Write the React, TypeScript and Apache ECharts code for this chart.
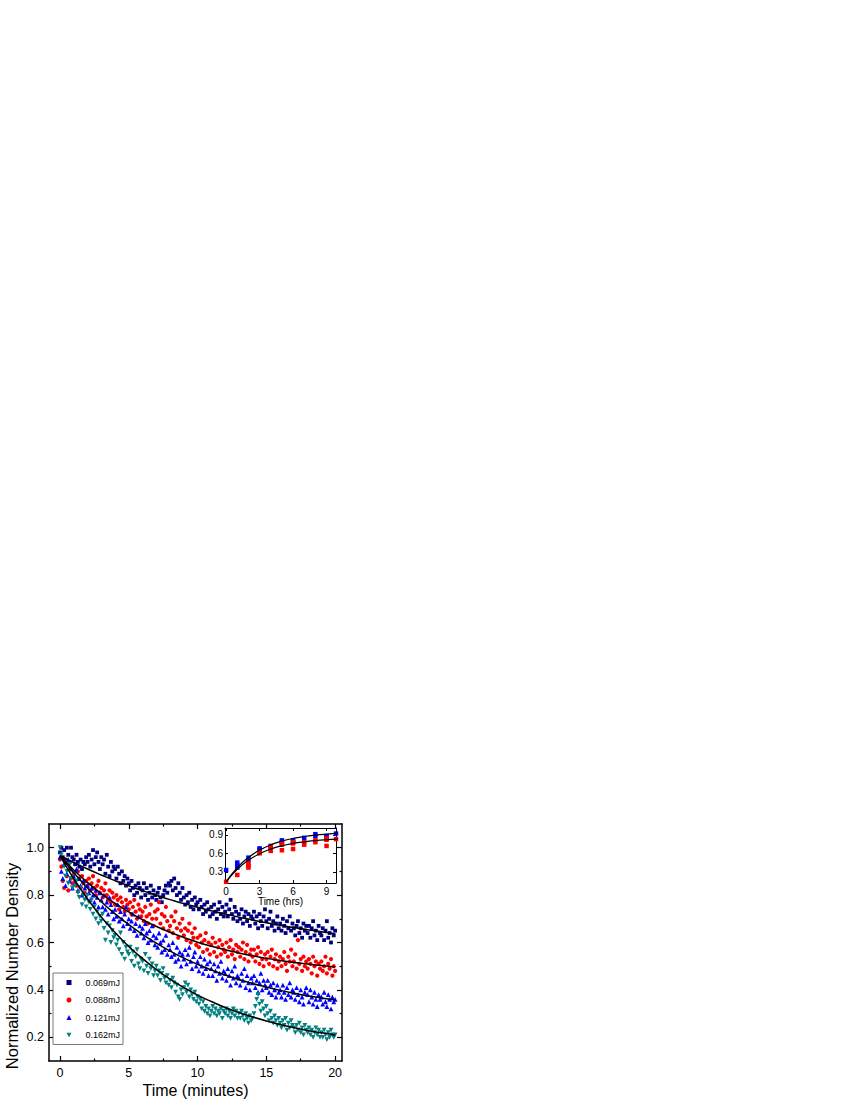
import React, { useEffect, useRef } from "react";
import * as echarts from "echarts";

// ---------- data ----------
const SAMPLE_STEP_MIN = 0.1; // sampling interval of the decay measurements (minutes)

const seriesNames = ["0.069mJ", "0.088mJ", "0.121mJ", "0.162mJ"];

const navyValues = [
  0.98, 1.0, 0.96, 0.99, 0.95, 1.0, 0.97, 0.94, 1.0, 0.96,
  0.95, 0.93, 0.97, 0.94, 0.92, 0.95, 0.91, 0.94, 0.93, 0.96,
  0.94, 0.97, 0.92, 0.95, 0.99, 0.93, 0.96, 0.98, 0.94, 0.91,
  0.96, 0.93, 0.95, 0.89, 0.97, 0.92, 0.88, 0.94, 0.9, 0.92,
  0.91, 0.87, 0.92, 0.89, 0.85, 0.9, 0.86, 0.88, 0.84, 0.87,
  0.85, 0.82, 0.86, 0.83, 0.8, 0.84, 0.81, 0.85, 0.83, 0.79,
  0.82, 0.85, 0.8, 0.83, 0.78, 0.81, 0.84, 0.79, 0.82, 0.8,
  0.78, 0.81, 0.83, 0.79, 0.77, 0.8, 0.82, 0.84, 0.81, 0.85,
  0.84, 0.86, 0.82, 0.87, 0.83, 0.8, 0.85, 0.81, 0.78, 0.83,
  0.79, 0.76, 0.8, 0.77, 0.81, 0.75, 0.78, 0.74, 0.79, 0.76,
  0.77, 0.74, 0.78, 0.75, 0.72, 0.76, 0.73, 0.77, 0.74, 0.71,
  0.75, 0.72, 0.76, 0.73, 0.7, 0.74, 0.77, 0.72, 0.75, 0.71,
  0.73, 0.76, 0.71, 0.74, 0.78, 0.72, 0.7, 0.75, 0.73, 0.69,
  0.72, 0.7, 0.74, 0.68, 0.71, 0.73, 0.69, 0.72, 0.67, 0.71,
  0.7, 0.73, 0.68, 0.71, 0.66, 0.72, 0.69, 0.67, 0.71, 0.74,
  0.69, 0.66, 0.7, 0.73, 0.67, 0.69, 0.65, 0.68, 0.71, 0.66,
  0.68, 0.65, 0.7, 0.67, 0.64, 0.69, 0.66, 0.71, 0.65, 0.68,
  0.66, 0.63, 0.67, 0.69, 0.64, 0.66, 0.62, 0.68, 0.65, 0.67,
  0.64, 0.67, 0.62, 0.66, 0.69, 0.63, 0.65, 0.61, 0.67, 0.64,
  0.63, 0.66, 0.61, 0.65, 0.69, 0.62, 0.64, 0.6, 0.66, 0.63,
  0.65,
];

const redValues = [
  0.95, 0.92, 0.86, 0.83, 0.94, 0.88, 0.82, 0.91, 0.87, 0.85,
  0.89, 0.86, 0.84, 0.9, 0.87, 0.83, 0.88, 0.85, 0.81, 0.86,
  0.84, 0.87, 0.82, 0.85, 0.88, 0.83, 0.8, 0.84, 0.86, 0.81,
  0.83, 0.79, 0.82, 0.85, 0.8, 0.78, 0.82, 0.77, 0.81, 0.79,
  0.76, 0.8, 0.78, 0.74, 0.79, 0.77, 0.75, 0.73, 0.78, 0.76,
  0.74, 0.77, 0.72, 0.75, 0.78, 0.73, 0.7, 0.76, 0.74, 0.71,
  0.73, 0.69, 0.75, 0.71, 0.68, 0.72, 0.76, 0.7, 0.67, 0.73,
  0.7, 0.74, 0.77, 0.68, 0.72, 0.66, 0.71, 0.75, 0.69, 0.65,
  0.67, 0.71, 0.64, 0.69, 0.73, 0.66, 0.62, 0.68, 0.65, 0.7,
  0.63, 0.66, 0.61, 0.65, 0.68, 0.6, 0.64, 0.62, 0.66, 0.59,
  0.62, 0.58, 0.63, 0.6, 0.56, 0.61, 0.64, 0.57, 0.6, 0.55,
  0.59, 0.62, 0.56, 0.6, 0.54, 0.58, 0.61, 0.55, 0.59, 0.57,
  0.56, 0.6, 0.54, 0.58, 0.61, 0.55, 0.57, 0.53, 0.59, 0.56,
  0.58, 0.54, 0.57, 0.6, 0.53, 0.56, 0.59, 0.52, 0.55, 0.57,
  0.54, 0.57, 0.52, 0.55, 0.58, 0.51, 0.56, 0.53, 0.5, 0.55,
  0.53, 0.56, 0.51, 0.54, 0.57, 0.5, 0.53, 0.55, 0.49, 0.52,
  0.54, 0.5, 0.53, 0.56, 0.51, 0.48, 0.54, 0.52, 0.57, 0.5,
  0.52, 0.55, 0.49, 0.61, 0.51, 0.53, 0.48, 0.54, 0.5, 0.52,
  0.49, 0.53, 0.51, 0.47, 0.54, 0.5, 0.52, 0.46, 0.51, 0.49,
  0.52, 0.48, 0.5, 0.54, 0.47, 0.51, 0.49, 0.53, 0.46, 0.5,
  0.48,
];

const blueValues = [
  0.96, 0.9, 0.87, 0.93, 0.84, 0.89, 0.95, 0.86, 0.91, 0.83,
  0.88, 0.85, 0.91, 0.82, 0.87, 0.84, 0.8, 0.86, 0.83, 0.79,
  0.84, 0.81, 0.78, 0.83, 0.8, 0.77, 0.82, 0.79, 0.75, 0.81,
  0.78, 0.75, 0.8, 0.74, 0.77, 0.72, 0.79, 0.76, 0.73, 0.7,
  0.74, 0.71, 0.76, 0.69, 0.73, 0.7, 0.67, 0.72, 0.75, 0.68,
  0.7, 0.66, 0.69, 0.72, 0.65, 0.68, 0.63, 0.71, 0.67, 0.64,
  0.66, 0.62, 0.68, 0.64, 0.6, 0.65, 0.61, 0.67, 0.63, 0.59,
  0.62, 0.58, 0.64, 0.6, 0.56, 0.61, 0.57, 0.63, 0.55, 0.59,
  0.57, 0.54, 0.6, 0.55, 0.52, 0.58, 0.53, 0.56, 0.5, 0.55,
  0.53, 0.57, 0.51, 0.55, 0.58, 0.52, 0.49, 0.54, 0.56, 0.5,
  0.52, 0.48, 0.54, 0.5, 0.47, 0.53, 0.49, 0.51, 0.46, 0.52,
  0.49, 0.46, 0.51, 0.48, 0.44, 0.5, 0.47, 0.52, 0.45, 0.48,
  0.47, 0.44, 0.49, 0.46, 0.42, 0.48, 0.45, 0.5, 0.43, 0.46,
  0.45, 0.42, 0.47, 0.44, 0.49, 0.41, 0.46, 0.43, 0.4, 0.45,
  0.43, 0.46, 0.41, 0.44, 0.39, 0.43, 0.47, 0.4, 0.44, 0.42,
  0.41, 0.44, 0.39, 0.42, 0.38, 0.43, 0.4, 0.37, 0.42, 0.39,
  0.4, 0.37, 0.42, 0.39, 0.36, 0.41, 0.38, 0.43, 0.37, 0.4,
  0.39, 0.36, 0.41, 0.38, 0.35, 0.4, 0.37, 0.34, 0.39, 0.41,
  0.38, 0.35, 0.4, 0.37, 0.34, 0.39, 0.36, 0.33, 0.38, 0.36,
  0.37, 0.34, 0.39, 0.35, 0.33, 0.38, 0.36, 0.32, 0.37, 0.35,
  0.36,
];

const tealValues = [
  1.0, 0.97, 0.95, 0.92, 0.88, 0.9, 0.85, 0.93, 0.87, 0.83,
  0.89, 0.84, 0.86, 0.81, 0.79, 0.83, 0.76, 0.8, 0.78, 0.75,
  0.8, 0.77, 0.74, 0.78, 0.72, 0.75, 0.7, 0.73, 0.68, 0.71,
  0.69, 0.72, 0.66, 0.61, 0.68, 0.64, 0.67, 0.6, 0.65, 0.62,
  0.63, 0.59, 0.61, 0.57, 0.64, 0.55, 0.6, 0.53, 0.58, 0.56,
  0.55, 0.58, 0.52, 0.56, 0.5, 0.54, 0.57, 0.51, 0.49, 0.53,
  0.52, 0.48, 0.55, 0.5, 0.47, 0.53, 0.49, 0.51, 0.46, 0.48,
  0.5, 0.46, 0.48, 0.44, 0.47, 0.49, 0.45, 0.43, 0.46, 0.42,
  0.44, 0.41, 0.45, 0.43, 0.39, 0.42, 0.37, 0.36, 0.4, 0.38,
  0.41, 0.43, 0.39, 0.42, 0.37, 0.4, 0.38, 0.36, 0.39, 0.35,
  0.37, 0.34, 0.36, 0.32, 0.35, 0.31, 0.33, 0.3, 0.32, 0.29,
  0.31, 0.33, 0.3, 0.32, 0.29, 0.31, 0.3, 0.32, 0.28, 0.31,
  0.3, 0.32, 0.29, 0.31, 0.28, 0.3, 0.32, 0.29, 0.31, 0.28,
  0.3, 0.28, 0.31, 0.29, 0.27, 0.3, 0.28, 0.26, 0.29, 0.27,
  0.28, 0.3, 0.33, 0.36, 0.38, 0.34, 0.31, 0.35, 0.32, 0.29,
  0.33, 0.3, 0.27, 0.31, 0.28, 0.26, 0.29, 0.27, 0.25, 0.28,
  0.26, 0.24, 0.27, 0.25, 0.28, 0.23, 0.26, 0.24, 0.27, 0.25,
  0.24, 0.22, 0.25, 0.23, 0.26, 0.22, 0.24, 0.21, 0.25, 0.23,
  0.22, 0.24, 0.21, 0.23, 0.2, 0.22, 0.24, 0.21, 0.23, 0.2,
  0.22, 0.2, 0.23, 0.21, 0.19, 0.22, 0.2, 0.23, 0.21, 0.2,
  0.21,
];

// exponential fit curves, read at whole minutes
const fitMinutes = [0, 1, 2, 3, 4, 5, 6, 7, 8, 9, 10, 11, 12, 13, 14, 15, 16, 17, 18, 19, 20];
const fitNavy = [0.966, 0.937, 0.91, 0.885, 0.861, 0.839, 0.819, 0.799, 0.781, 0.764, 0.749, 0.734, 0.72, 0.707, 0.695, 0.683, 0.673, 0.663, 0.654, 0.645, 0.637];
const fitRed = [0.966, 0.906, 0.853, 0.806, 0.765, 0.729, 0.696, 0.668, 0.643, 0.621, 0.601, 0.584, 0.569, 0.556, 0.544, 0.533, 0.524, 0.516, 0.509, 0.503, 0.497];
const fitBlue = [0.966, 0.894, 0.83, 0.772, 0.721, 0.675, 0.634, 0.597, 0.564, 0.534, 0.508, 0.484, 0.463, 0.444, 0.427, 0.412, 0.398, 0.386, 0.375, 0.366, 0.357];
const fitTeal = [0.966, 0.869, 0.784, 0.708, 0.642, 0.583, 0.532, 0.486, 0.445, 0.41, 0.378, 0.351, 0.326, 0.305, 0.286, 0.269, 0.254, 0.241, 0.229, 0.219, 0.21];

// inset: recovery over hours
const insetBlueHours = [0, 1, 1, 1, 2, 2, 3, 3, 4, 4, 5, 5, 6, 6, 7, 8, 8, 9, 9, 9.85];
const insetBlueValues = [0.33, 0.37, 0.41, 0.45, 0.49, 0.53, 0.66, 0.68, 0.69, 0.72, 0.78, 0.81, 0.79, 0.81, 0.85, 0.88, 0.91, 0.86, 0.88, 0.92];
const insetRedHours = [0, 1, 2, 2, 2, 3, 3, 4, 4, 4, 5, 5, 5, 6, 6, 6, 7, 7, 8, 8, 9, 9, 9, 9.85];
const insetRedValues = [0.14, 0.25, 0.37, 0.4, 0.44, 0.6, 0.62, 0.64, 0.68, 0.7, 0.65, 0.74, 0.76, 0.67, 0.76, 0.78, 0.74, 0.78, 0.78, 0.81, 0.72, 0.82, 0.84, 0.83];
const insetFitHours = [0, 1, 2, 3, 4, 5, 6, 7, 8, 9, 10];
const insetFitUpper = [0.14, 0.37, 0.534, 0.652, 0.737, 0.797, 0.841, 0.872, 0.894, 0.91, 0.922];
const insetFitLower = [0.14, 0.343, 0.489, 0.593, 0.668, 0.722, 0.76, 0.787, 0.807, 0.821, 0.831];

const xMajorTicks = [0, 5, 10, 15, 20];
const xMinorTicks = [2.5, 7.5, 12.5, 17.5];
const yMajorTicks = [0.2, 0.4, 0.6, 0.8, 1.0];
const yMinorTicks = [0.3, 0.5, 0.7, 0.9];
const insetXTicks = [0, 3, 6, 9];
const insetYTicks = [0.3, 0.6, 0.9];

// ---------- styling ----------
const FONT = "'Liberation Sans', Arial, Helvetica, sans-serif";
const colors = ["#000080", "#ff0000", "#0000ff", "#008080"];
const symbols = ["rect", "circle", "triangle", "triangle"];
const legendIcons = ["rect", "circle", "triangle", "path://M0,0 L10,0 L5,9 Z"];
const symbolSizes = [3.8, 4.2, 4.8, 4.8];
const symbolRotates = [0, 0, 0, 180];

const sampleTimes = navyValues.map((_, i) => Math.round(i * SAMPLE_STEP_MIN * 10) / 10);
const pair = (xs: number[], ys: number[]) => ys.map((y, i) => [xs[i], y]);

function mainAxis(dim: "x" | "y", pos: string, ticks: number[], len: number, withLabels: boolean, showLine: boolean) {
  const isX = dim === "x";
  return {
    type: "value",
    gridIndex: 0,
    position: pos,
    min: isX ? -0.8 : 0.1,
    max: isX ? 20.5 : 1.1,
    axisLine: { show: showLine, onZero: false, lineStyle: { color: "#000", width: 1.5 } },
    axisTick: { show: true, inside: true, length: len, customValues: ticks, lineStyle: { color: "#000", width: 1.2 } },
    axisLabel: withLabels
      ? {
          show: true,
          customValues: ticks,
          margin: 5,
          fontSize: 12.5,
          color: "#000",
          fontFamily: FONT,
          formatter: (v: number) => (isX ? String(v) : v.toFixed(1)),
        }
      : { show: false },
    splitLine: { show: false },
  };
}

function insetAxis(dim: "x" | "y", pos: string, withLabels: boolean) {
  const isX = dim === "x";
  const ticks = isX ? insetXTicks : insetYTicks;
  return {
    type: "value",
    gridIndex: 1,
    position: pos,
    min: isX ? -0.1 : 0.12,
    max: isX ? 9.85 : 1.01,
    axisLine: { show: true, onZero: false, lineStyle: { color: "#000", width: 1 } },
    axisTick: { show: true, inside: true, length: 3, customValues: ticks, lineStyle: { color: "#000", width: 1 } },
    axisLabel: withLabels
      ? {
          show: true,
          customValues: ticks,
          margin: isX ? 3 : 2,
          fontSize: 10,
          color: "#000",
          fontFamily: FONT,
          formatter: (v: number) => (isX ? String(v) : v.toFixed(1)),
        }
      : { show: false },
    splitLine: { show: false },
  };
}

export default function App() {
  const ref = useRef<HTMLDivElement>(null);

  useEffect(() => {
    if (!ref.current) return;
    const chart = echarts.init(ref.current, null, { renderer: "svg" });

    const decay = [navyValues, redValues, blueValues, tealValues];
    const fits = [fitNavy, fitRed, fitBlue, fitTeal];

    const scatterSeries = decay.map((vals, k) => ({
      name: seriesNames[k],
      type: "scatter",
      xAxisIndex: 0,
      yAxisIndex: 0,
      symbol: symbols[k],
      symbolSize: symbolSizes[k],
      symbolRotate: symbolRotates[k],
      itemStyle: { color: colors[k], opacity: 1 },
      data: pair(sampleTimes, vals),
      z: 2,
    }));

    const fitSeries = fits.map((vals, k) => ({
      name: "fit " + seriesNames[k],
      type: "line",
      xAxisIndex: 0,
      yAxisIndex: 0,
      smooth: true,
      showSymbol: false,
      symbol: "none",
      lineStyle: { color: "#000", width: 1.5 },
      data: pair(fitMinutes, vals),
      z: 3,
    }));

    const option = {
      animation: false,
      backgroundColor: "#fff",
      textStyle: { fontFamily: FONT },
      grid: [
        { left: 49, top: 824, width: 293, height: 237, containLabel: false },
        { left: 225, top: 828, width: 111, height: 55, containLabel: false, show: true, backgroundColor: "#fff", borderWidth: 0 },
      ],
      legend: {
        data: seriesNames.map((name, k) => ({ name, icon: legendIcons[k], itemStyle: { color: colors[k], opacity: 1 } })),
        orient: "vertical",
        left: 53,
        top: 973,
        padding: [5, 3, 5, 13.5],
        itemWidth: 5,
        itemHeight: 5,
        itemGap: 8.5,
        symbolKeepAspect: true,
        borderColor: "#555",
        borderWidth: 0.8,
        backgroundColor: "#fff",
        selectedMode: false,
        textStyle: { fontSize: 9, color: "#000", fontFamily: FONT, padding: [0, 0, 0, 9] },
      },
      xAxis: [
        {
          ...mainAxis("x", "bottom", xMajorTicks, 5, true, true),
          name: "Time (minutes)",
          nameLocation: "middle",
          nameGap: 21,
          nameTextStyle: { fontSize: 16, color: "#000", fontFamily: FONT },
        },
        mainAxis("x", "bottom", xMinorTicks, 2.5, false, false),
        mainAxis("x", "top", xMajorTicks, 5, false, true),
        mainAxis("x", "top", xMinorTicks, 2.5, false, false),
        {
          ...insetAxis("x", "bottom", true),
          name: "Time (hrs)",
          nameLocation: "middle",
          nameGap: 12,
          nameTextStyle: { fontSize: 10, color: "#000", fontFamily: FONT },
        },
        insetAxis("x", "top", false),
      ],
      yAxis: [
        mainAxis("y", "left", yMajorTicks, 5, true, true),
        mainAxis("y", "left", yMinorTicks, 2.5, false, false),
        mainAxis("y", "right", yMajorTicks, 5, false, true),
        mainAxis("y", "right", yMinorTicks, 2.5, false, false),
        insetAxis("y", "left", true),
        insetAxis("y", "right", false),
      ],
      graphic: [
        {
          type: "text",
          x: 12,
          y: 966,
          rotation: Math.PI / 2,
          style: {
            text: "Normalized Number Density",
            fontSize: 16.5,
            fontFamily: FONT,
            fill: "#000",
            align: "center",
            verticalAlign: "middle",
            textAlign: "center",
            textVerticalAlign: "middle",
          },
        },
      ],
      series: [
        ...scatterSeries,
        ...fitSeries,
        {
          name: "inset blue",
          type: "scatter",
          xAxisIndex: 4,
          yAxisIndex: 4,
          symbol: "rect",
          symbolSize: 4.5,
          itemStyle: { color: "#0000ff", opacity: 1 },
          data: pair(insetBlueHours, insetBlueValues),
          z: 4,
        },
        {
          name: "inset red",
          type: "scatter",
          xAxisIndex: 4,
          yAxisIndex: 4,
          symbol: "rect",
          symbolSize: 4.5,
          itemStyle: { color: "#ff0000", opacity: 1 },
          data: pair(insetRedHours, insetRedValues),
          z: 4,
        },
        {
          name: "inset fit upper",
          type: "line",
          xAxisIndex: 4,
          yAxisIndex: 4,
          smooth: true,
          showSymbol: false,
          symbol: "none",
          lineStyle: { color: "#000", width: 1.2 },
          data: pair(insetFitHours, insetFitUpper),
          z: 5,
        },
        {
          name: "inset fit lower",
          type: "line",
          xAxisIndex: 4,
          yAxisIndex: 4,
          smooth: true,
          showSymbol: false,
          symbol: "none",
          lineStyle: { color: "#000", width: 1.2 },
          data: pair(insetFitHours, insetFitLower),
          z: 5,
        },
      ],
    };

    chart.setOption(option as any);
    return () => chart.dispose();
  }, []);

  return (
    <div
      ref={ref}
      style={{ position: "absolute", left: 0, top: 0, width: 850, height: 1100 }}
    />
  );
}
